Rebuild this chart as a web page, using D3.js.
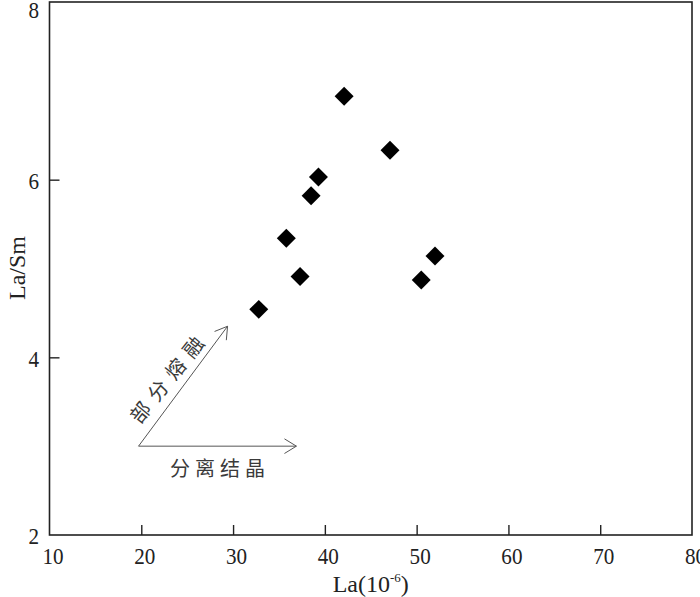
<!DOCTYPE html>
<html>
<head>
<meta charset="utf-8">
<script src="https://cdn.jsdelivr.net/npm/d3@7"></script>
<style>
  html, body { margin: 0; padding: 0; background: #fff; }
  svg { display: block; }
</style>
</head>
<body>
<svg id="chart" width="700" height="597"></svg>
<script>
// ---- data ----
const laValues    = [42.1, 47.1, 39.3, 38.5, 35.8, 37.3, 32.8, 52.0, 50.5];
const laSmValues  = [6.94, 6.33, 6.03, 5.82, 5.34, 4.91, 4.54, 5.14, 4.87];
const xTicks = [10, 20, 30, 40, 50, 60, 70, 80];
const yTicks = [2, 4, 6, 8];
const xDomain = [10, 80];
const yDomain = [2, 8];
const arrowOrigin = [19.7, 3.0];
const arrowMeltTip = [29.4, 4.35];
const arrowCrystTip = [36.9, 3.0];
const labelMelt = "部分熔融";
const labelCryst = "分离结晶";
const xTitle = "La(10";
const xTitleSup = "-6";
const yTitle = "La/Sm";

// ---- layout ----
const svg = d3.select("#chart");
const mLeft = 49.5, mRight = 692, mTop = 2, mBottom = 535;
const x = d3.scaleLinear().domain(xDomain).range([mLeft, mRight]);
const y = d3.scaleLinear().domain(yDomain).range([mBottom, mTop]);
const serif = "'Liberation Serif', 'DejaVu Serif', serif";
const ink = "#222";
const tickFont = 24, squeeze = 0.88;

// frame
svg.append("rect")
  .attr("x", mLeft).attr("y", mTop)
  .attr("width", mRight - mLeft).attr("height", mBottom - mTop)
  .attr("fill", "none").attr("stroke", ink).attr("stroke-width", 1.6);

// axes with inward ticks
const xAxis = d3.axisBottom(x).tickValues(xTicks).tickFormat(d3.format("d"))
  .tickSizeInner(-10).tickSizeOuter(0).tickPadding(12);
const gx = svg.append("g").attr("transform", `translate(0,${mBottom})`).call(xAxis);
gx.attr("font-family", serif);
gx.select(".domain").remove();
gx.selectAll("line").attr("stroke", ink).attr("stroke-width", 1.4);
gx.selectAll("text").attr("font-family", serif).attr("font-size", tickFont).attr("fill", ink)
  .attr("transform", `translate(3,0) scale(${squeeze},1)`);
gx.selectAll(".tick").filter(d => d === 10 || d === 80).select("line").remove();

const yAxis = d3.axisLeft(y).tickValues(yTicks).tickFormat(d3.format("d"))
  .tickSizeInner(-10).tickSizeOuter(0).tickPadding(10.5 / squeeze);
const gy = svg.append("g").attr("transform", `translate(${mLeft},0)`).call(yAxis);
gy.attr("font-family", serif);
gy.select(".domain").remove();
gy.selectAll("line").attr("stroke", ink).attr("stroke-width", 1.4);
gy.selectAll("text").attr("font-family", serif).attr("font-size", tickFont).attr("fill", ink)
  .attr("transform", d => `translate(0,${d === 8 ? 8 : 1}) scale(${squeeze},1)`);
gy.selectAll(".tick").filter(d => d === 2 || d === 8).select("line").remove();

// axis titles
const xt = svg.append("text")
  .attr("x", (mLeft + mRight) / 2).attr("y", 592)
  .attr("text-anchor", "middle")
  .attr("font-family", serif).attr("font-size", 24).attr("fill", ink);
xt.append("tspan").text(xTitle);
xt.append("tspan").text(xTitleSup).attr("font-size", 13).attr("dy", -10);
xt.append("tspan").text(")").attr("dy", 10);

svg.append("text")
  .attr("transform", `translate(25,${268}) rotate(-90)`)
  .attr("text-anchor", "middle")
  .attr("font-family", serif).attr("font-size", 24).attr("fill", ink)
  .text(yTitle);

// points (diamonds)
const pts = laValues.map((v, i) => [v, laSmValues[i]]);
const diamond = d3.symbol().type(d3.symbolSquare).size(180);
svg.append("g").selectAll("path").data(pts).join("path")
  .attr("d", diamond)
  .attr("transform", d => `translate(${x(d[0])},${y(d[1])}) rotate(45)`)
  .attr("fill", "#000");

// arrows
const arrowColor = "#555";
function drawArrow(from, to) {
  const x0 = x(from[0]), y0 = y(from[1]), x1 = x(to[0]), y1 = y(to[1]);
  svg.append("line")
    .attr("x1", x0).attr("y1", y0).attr("x2", x1).attr("y2", y1)
    .attr("stroke", arrowColor).attr("stroke-width", 1);
  const ang = Math.atan2(y1 - y0, x1 - x0);
  const L = 14, spread = 0.55;
  const p1 = [x1 - L * Math.cos(ang - spread), y1 - L * Math.sin(ang - spread)];
  const p2 = [x1 - L * Math.cos(ang + spread), y1 - L * Math.sin(ang + spread)];
  svg.append("path")
    .attr("d", `M${p1[0]},${p1[1]}L${x1},${y1}L${p2[0]},${p2[1]}`)
    .attr("fill", "none").attr("stroke", arrowColor).attr("stroke-width", 1);
}
drawArrow(arrowOrigin, arrowMeltTip);
drawArrow(arrowOrigin, arrowCrystTip);

const cjk = "'Noto Sans CJK SC', sans-serif";
const cjkSize = 20;
// 分离结晶, centred below the horizontal arrow
const crystSpacing = 5;
const crystLen = 4 * cjkSize + 3 * crystSpacing;
svg.append("text")
  .attr("x", 217.5 - crystLen / 2).attr("y", 467)
  .attr("dominant-baseline", "central")
  .attr("font-family", cjk).attr("font-size", cjkSize).attr("letter-spacing", crystSpacing)
  .attr("fill", "#3a3a3a")
  .text(labelCryst);

// 部分熔融, along the diagonal arrow
const meltSpacing = 8;
const meltLen = 4 * cjkSize + 3 * meltSpacing;
svg.append("text")
  .attr("transform", `translate(166,379) rotate(-51)`)
  .attr("x", -meltLen / 2).attr("y", 0)
  .attr("dominant-baseline", "central")
  .attr("font-family", cjk).attr("font-size", cjkSize).attr("letter-spacing", meltSpacing)
  .attr("fill", "#3a3a3a")
  .text(labelMelt);
</script>
</body>
</html>
